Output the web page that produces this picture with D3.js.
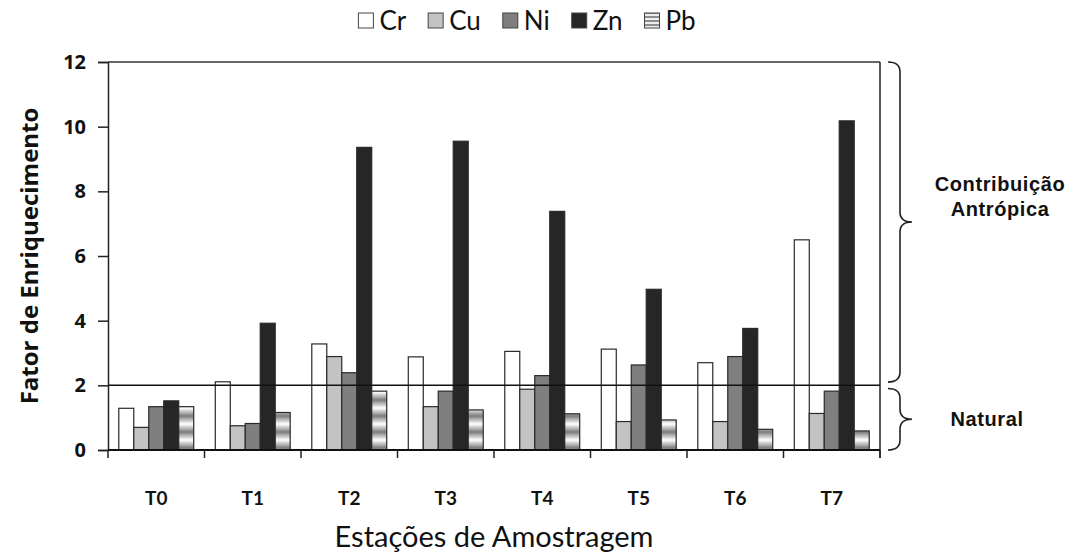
<!DOCTYPE html>
<html>
<head>
<meta charset="utf-8">
<script src="https://cdn.jsdelivr.net/npm/d3@7"></script>
<style>
  body { margin: 0; background: #fff; }
  svg { display: block; }
</style>
</head>
<body>
<div id="chart"></div>
<script>
// Chart data
const stations = ["T0", "T1", "T2", "T3", "T4", "T5", "T6", "T7"];
const metals = ["Cr", "Cu", "Ni", "Zn", "Pb"];
const cr = [1.29, 2.11, 3.28, 2.88, 3.05, 3.12, 2.70, 6.50];
const cu = [0.70, 0.75, 2.89, 1.34, 1.88, 0.88, 0.88, 1.13];
const ni = [1.34, 0.82, 2.39, 1.82, 2.30, 2.63, 2.89, 1.82];
const zn = [1.52, 3.92, 9.36, 9.55, 7.38, 4.97, 3.76, 10.18];
const pb = [1.34, 1.16, 1.82, 1.24, 1.12, 0.93, 0.64, 0.59];
const yTicks = [0, 2, 4, 6, 8, 10, 12];
const threshold = 2;

const seriesValues = { Cr: cr, Cu: cu, Ni: ni, Zn: zn, Pb: pb };
const fills = { Cr: "#ffffff", Cu: "#c3c3c3", Ni: "#7f7f7f", Zn: "#262626", Pb: "url(#pbPattern)" };

const width = 1074, height = 557;
const plotLeft = 108, plotRight = 880, plotTop = 62, plotBottom = 450;

const svg = d3.select("#chart")
    .append("svg")
    .attr("width", width)
    .attr("height", height);

// Pb banded fill
const defs = svg.append("defs");
const grad = defs.append("linearGradient")
    .attr("id", "pbGrad")
    .attr("x1", 0).attr("y1", 0).attr("x2", 0).attr("y2", 1);
grad.append("stop").attr("offset", "0%").attr("stop-color", "#7c7c7c");
grad.append("stop").attr("offset", "50%").attr("stop-color", "#ffffff");
grad.append("stop").attr("offset", "100%").attr("stop-color", "#7c7c7c");
defs.append("pattern")
    .attr("id", "pbPattern")
    .attr("patternUnits", "userSpaceOnUse")
    .attr("width", 20).attr("height", 16)
    .append("rect")
    .attr("width", 20).attr("height", 16)
    .attr("fill", "url(#pbGrad)");

// legend Pb fill uses finer stripes
const lpat = defs.append("pattern")
    .attr("id", "pbLegend")
    .attr("patternUnits", "userSpaceOnUse")
    .attr("width", 15).attr("height", 4);
lpat.append("rect").attr("width", 15).attr("height", 4).attr("fill", "#eeeeee");
lpat.append("rect").attr("width", 15).attr("height", 2).attr("fill", "#8e8e8e");

const y = d3.scaleLinear().domain([0, 12]).range([plotBottom, plotTop]);
const x0 = d3.scaleBand().domain(stations).range([plotLeft, plotRight]);
const x1 = d3.scaleBand().domain(metals).range([0, x0.bandwidth()])
    .paddingInner(0).paddingOuter(0.72);

// Bars
const groups = svg.selectAll(".station")
    .data(stations)
    .join("g")
    .attr("class", "station")
    .attr("transform", d => `translate(${x0(d)},0)`);

groups.selectAll("rect")
    .data((d, i) => metals.map(m => ({ metal: m, value: seriesValues[m][i] })))
    .join("rect")
    .attr("x", d => x1(d.metal))
    .attr("y", d => y(d.value))
    .attr("width", x1.bandwidth())
    .attr("height", d => plotBottom - y(d.value))
    .attr("fill", d => fills[d.metal])
    .attr("stroke", "#2a2a2a")
    .attr("stroke-width", 1.2);

// Y axis
const yAxis = svg.append("g")
    .attr("transform", `translate(${plotLeft},0)`)
    .call(d3.axisLeft(y).tickValues(yTicks).tickSize(10).tickPadding(12));
yAxis.select(".domain").attr("stroke", "#222").attr("stroke-width", 1.5);
yAxis.selectAll(".tick line").attr("stroke", "#222").attr("stroke-width", 1.5);
yAxis.selectAll("text")
    .attr("font-family", "'Open Sans', Lato, sans-serif")
    .attr("font-weight", "bold")
    .attr("font-size", 20)
    .attr("fill", "#111");

// Frame: top line, right line, threshold line
svg.append("line")
    .attr("x1", plotLeft).attr("x2", plotRight)
    .attr("y1", y(12)).attr("y2", y(12))
    .attr("stroke", "#333").attr("stroke-width", 1.5);
svg.append("line")
    .attr("x1", plotRight).attr("x2", plotRight)
    .attr("y1", y(12)).attr("y2", plotBottom + 8)
    .attr("stroke", "#222").attr("stroke-width", 1.5);
svg.append("line")
    .attr("x1", plotLeft).attr("x2", plotRight)
    .attr("y1", y(threshold)).attr("y2", y(threshold))
    .attr("stroke", "#111").attr("stroke-width", 1.5);

// X axis
svg.append("line")
    .attr("x1", plotLeft).attr("x2", plotRight)
    .attr("y1", plotBottom).attr("y2", plotBottom)
    .attr("stroke", "#111").attr("stroke-width", 2);
svg.selectAll(".xtick")
    .data(stations.concat(["end"]))
    .join("line")
    .attr("class", "xtick")
    .attr("x1", d => d === "end" ? plotRight : x0(d))
    .attr("x2", d => d === "end" ? plotRight : x0(d))
    .attr("y1", plotBottom).attr("y2", plotBottom + 8)
    .attr("stroke", "#222").attr("stroke-width", 1.5);
svg.selectAll(".xlabel")
    .data(stations)
    .join("text")
    .attr("class", "xlabel")
    .attr("x", d => x0(d) + x0.bandwidth() / 2)
    .attr("y", 505)
    .attr("text-anchor", "middle")
    .attr("font-family", "Lato, 'Open Sans', sans-serif")
    .attr("font-weight", "bold")
    .attr("font-size", 19)
    .attr("fill", "#111")
    .text(d => d);

// Axis titles
svg.append("text")
    .attr("x", (plotLeft + plotRight) / 2)
    .attr("y", 547)
    .attr("text-anchor", "middle")
    .attr("font-family", "Lato, 'Open Sans', sans-serif")
    .attr("font-size", 29)
    .attr("fill", "#111")
    .text("Estações de Amostragem");

svg.append("text")
    .attr("transform", `translate(38,${(plotTop + plotBottom) / 2}) rotate(-90)`)
    .attr("text-anchor", "middle")
    .attr("font-family", "'Open Sans', Lato, sans-serif")
    .attr("font-weight", "bold")
    .attr("font-size", 24)
    .attr("fill", "#111")
    .text("Fator de Enriquecimento");

// Legend
const legend = svg.append("g").attr("class", "legend");
let lx = 0;
metals.forEach(m => {
    const item = legend.append("g").attr("transform", `translate(${lx},0)`);
    item.append("rect")
        .attr("x", 0).attr("y", 13)
        .attr("width", 15).attr("height", 15)
        .attr("fill", m === "Pb" ? "url(#pbLegend)" : fills[m])
        .attr("stroke", "#444").attr("stroke-width", 1);
    const t = item.append("text")
        .attr("x", 21).attr("y", 30)
        .attr("font-family", "Lato, 'Open Sans', sans-serif")
        .attr("font-size", 26)
        .attr("fill", "#111")
        .text(m);
    lx += 21 + t.node().getComputedTextLength() + 22;
});
legend.attr("transform", `translate(${527 - (lx - 22) / 2},0)`);

// Braces on the right
function bracePath(x, ya, yb, w) {
    const xm = x + w / 2, ym = (ya + yb) / 2, q = 10;
    return `M${x},${ya} Q${xm},${ya} ${xm},${ya + q} L${xm},${ym - q} ` +
        `Q${xm},${ym} ${x + w},${ym} Q${xm},${ym} ${xm},${ym + q} ` +
        `L${xm},${yb - q} Q${xm},${yb} ${x},${yb}`;
}
const braces = [
    { from: 12, to: threshold + 0.1, lines: ["Contribuição", "Antrópica"], tx: 1000, dy: -26 },
    { from: threshold - 0.1, to: 0, lines: ["Natural"], tx: 987, dy: 0 }
];
braces.forEach(b => {
    const ya = y(b.from), yb = y(b.to);
    svg.append("path")
        .attr("d", bracePath(888, ya, yb, 24))
        .attr("fill", "none")
        .attr("stroke", "#222")
        .attr("stroke-width", 1.6);
    const ym = (ya + yb) / 2 + b.dy;
    b.lines.forEach((line, i) => {
        svg.append("text")
            .attr("x", b.tx)
            .attr("y", ym + (i - (b.lines.length - 1) / 2) * 25 + 7)
            .attr("text-anchor", "middle")
            .attr("font-family", "'Liberation Sans', Arial, sans-serif")
            .attr("font-weight", "bold")
            .attr("font-size", 20)
            .attr("letter-spacing", 0.6)
            .attr("fill", "#111")
            .text(line);
    });
});
</script>
</body>
</html>
